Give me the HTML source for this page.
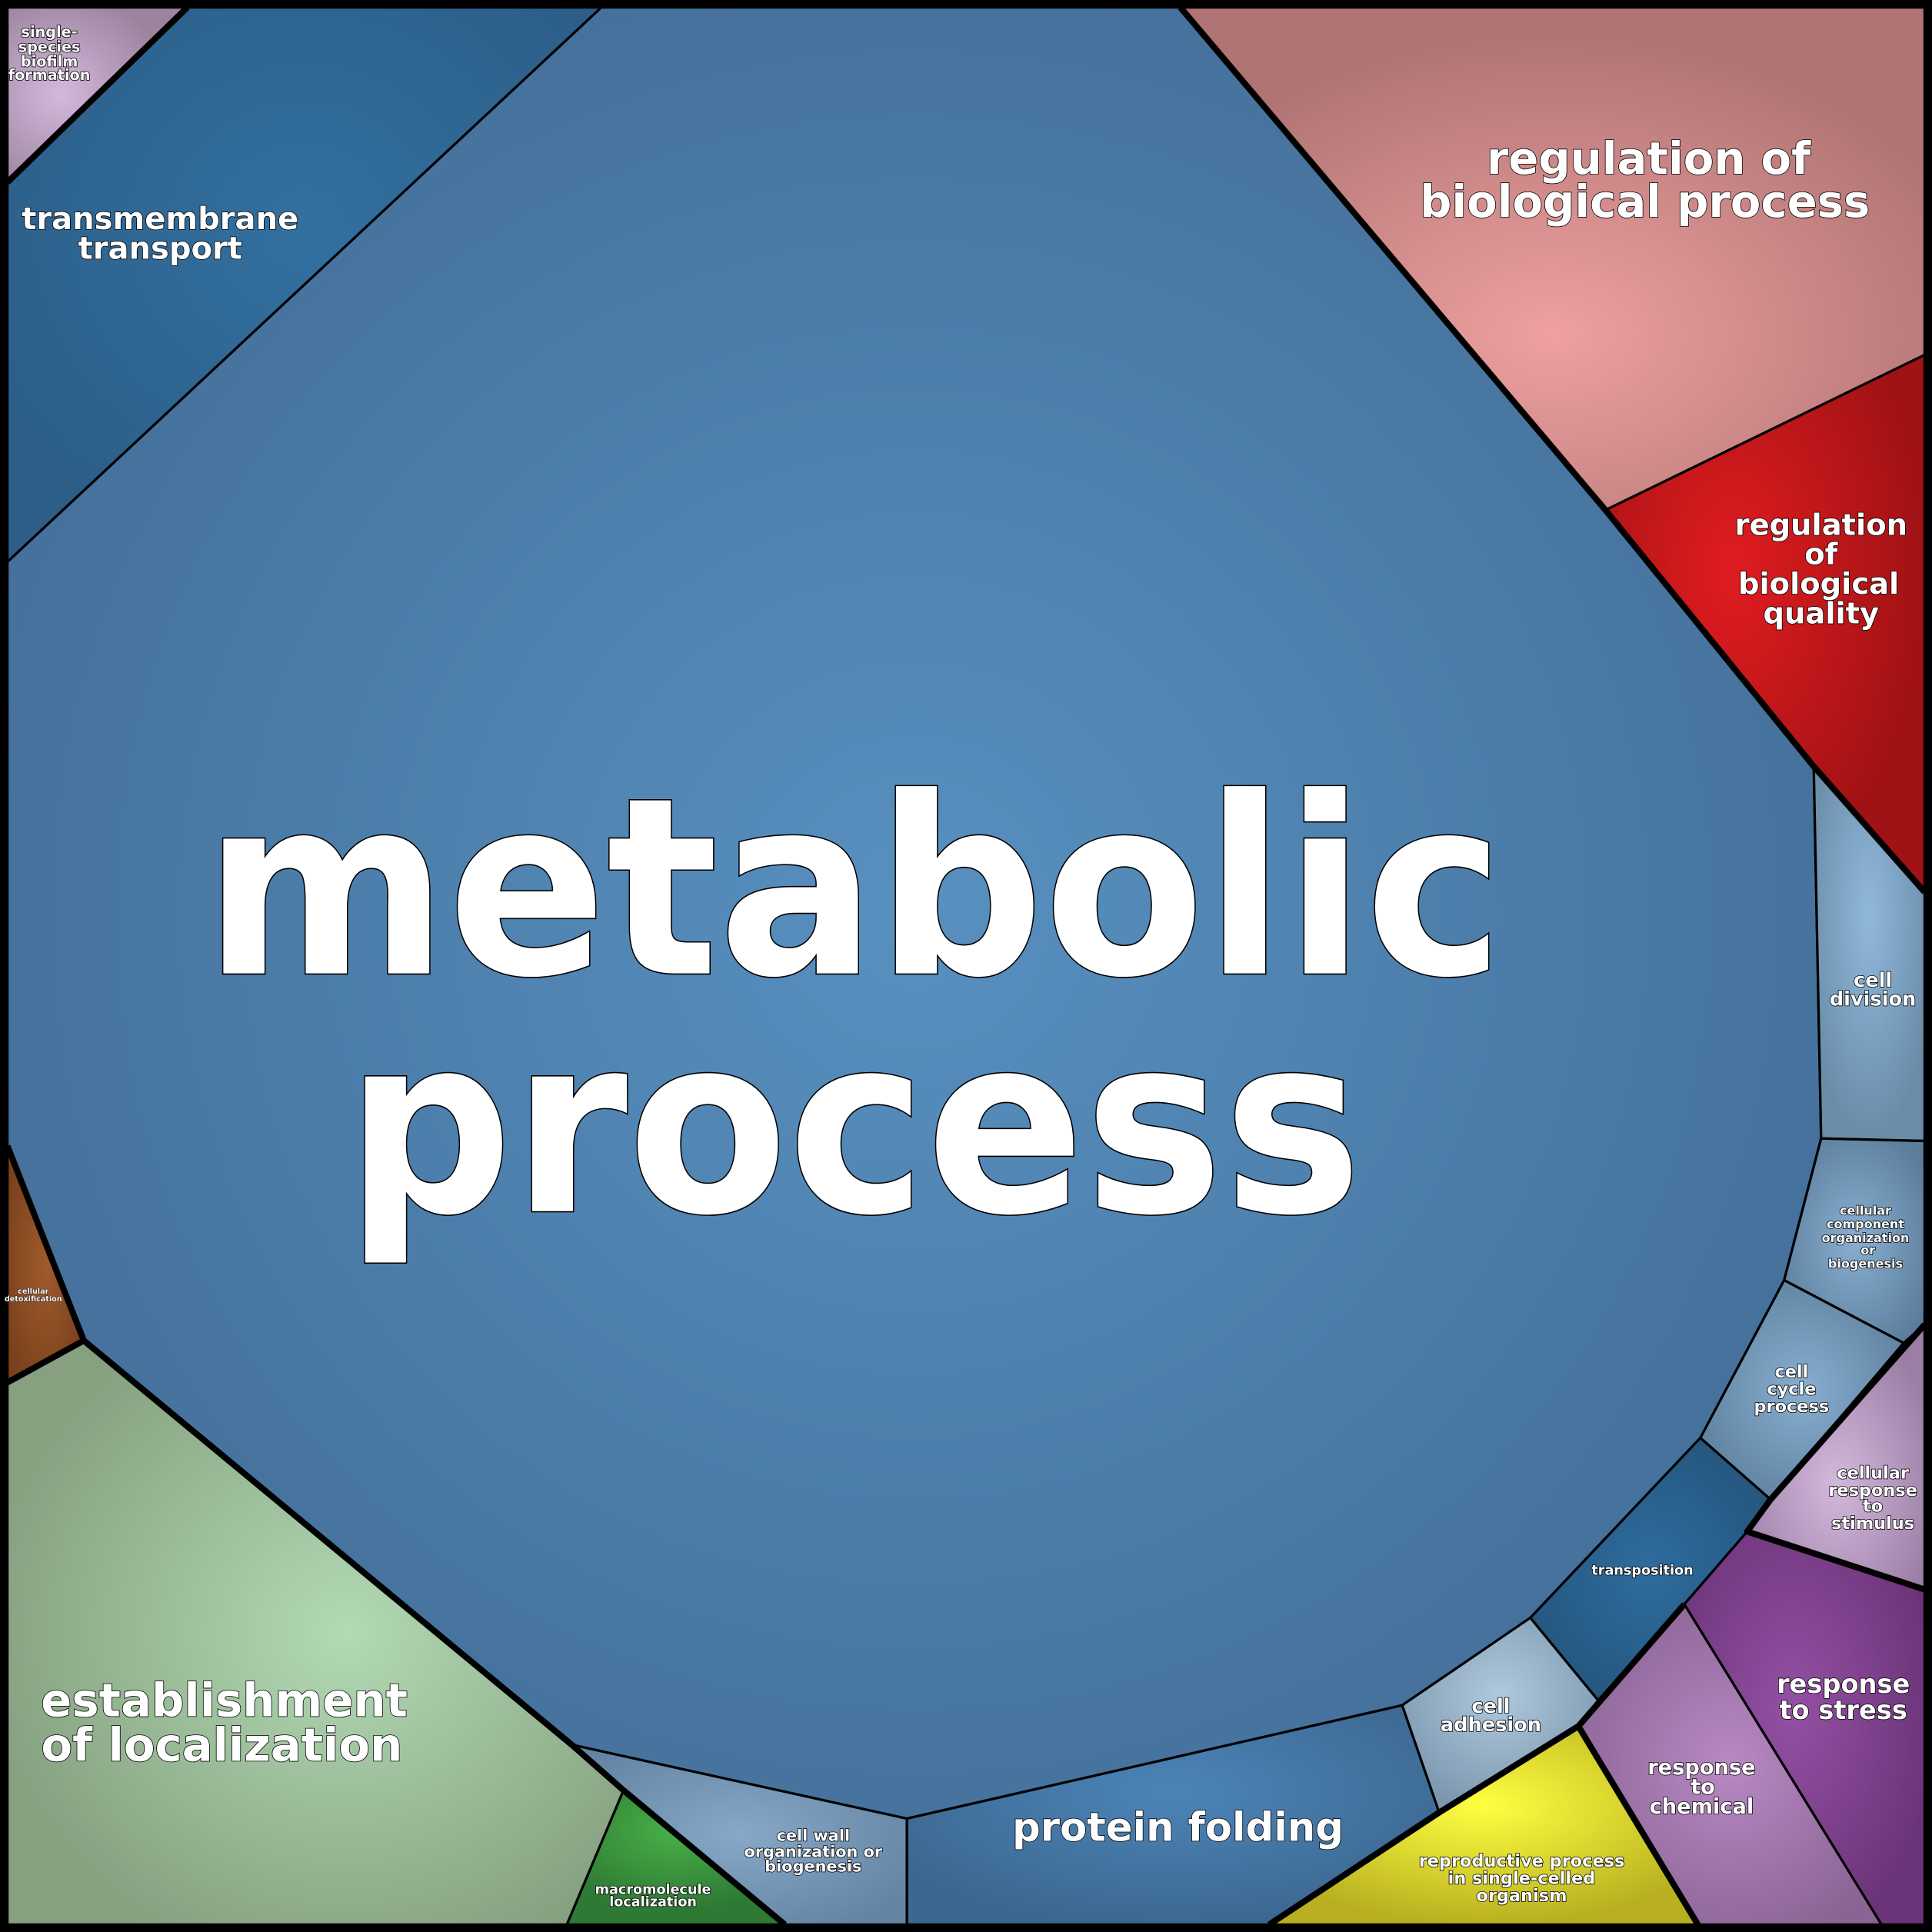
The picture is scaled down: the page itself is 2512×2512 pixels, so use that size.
<!DOCTYPE html>
<html><head><meta charset="utf-8"><style>html,body{margin:0;padding:0;background:#000}svg{display:block}
text{font-family:"DejaVu Sans","Liberation Sans",sans-serif;font-weight:bold;fill:#fff;stroke:#000;paint-order:stroke;text-anchor:middle}</style></head>
<body>
<svg width="2512" height="2512" viewBox="0 0 1568 1568" xmlns="http://www.w3.org/2000/svg">
<defs>
<radialGradient id="gMet" cx="0.5" cy="0.5" r="0.55"><stop offset="0" stop-color="#5890c0"/><stop offset="1" stop-color="#44709a"/></radialGradient>
<radialGradient id="gTm" cx="0.5" cy="0.4" r="0.6"><stop offset="0" stop-color="#3270a0"/><stop offset="1" stop-color="#2c5e88"/></radialGradient>
<radialGradient id="gSs" cx="0.3" cy="0.5" r="0.6"><stop offset="0" stop-color="#d4b8dc"/><stop offset="1" stop-color="#9c849f"/></radialGradient>
<radialGradient id="gRbp" cx="0.5" cy="0.65" r="0.6"><stop offset="0" stop-color="#f0a0a0"/><stop offset="1" stop-color="#b07474"/></radialGradient>
<radialGradient id="gRbq" cx="0.4" cy="0.4" r="0.6"><stop offset="0" stop-color="#e01c20"/><stop offset="1" stop-color="#a01214"/></radialGradient>
<radialGradient id="gCd" cx="0.5" cy="0.4" r="0.6"><stop offset="0" stop-color="#90b8dc"/><stop offset="1" stop-color="#6a8ca8"/></radialGradient>
<radialGradient id="gLb" cx="0.5" cy="0.5" r="0.6"><stop offset="0" stop-color="#88aed0"/><stop offset="1" stop-color="#5c7e9c"/></radialGradient>
<radialGradient id="gCrs" cx="0.5" cy="0.6" r="0.6"><stop offset="0" stop-color="#d4b8dc"/><stop offset="1" stop-color="#9a7ea4"/></radialGradient>
<radialGradient id="gTr" cx="0.5" cy="0.5" r="0.6"><stop offset="0" stop-color="#2e6c9e"/><stop offset="1" stop-color="#24547c"/></radialGradient>
<radialGradient id="gRs" cx="0.45" cy="0.45" r="0.6"><stop offset="0" stop-color="#9450a4"/><stop offset="1" stop-color="#6c3478"/></radialGradient>
<radialGradient id="gRc" cx="0.5" cy="0.5" r="0.6"><stop offset="0" stop-color="#b888c4"/><stop offset="1" stop-color="#8a6494"/></radialGradient>
<radialGradient id="gCa" cx="0.5" cy="0.4" r="0.6"><stop offset="0" stop-color="#b0c8dc"/><stop offset="1" stop-color="#7c98b0"/></radialGradient>
<radialGradient id="gRep" cx="0.5" cy="0.4" r="0.6"><stop offset="0" stop-color="#ffff40"/><stop offset="1" stop-color="#b8b020"/></radialGradient>
<radialGradient id="gPf" cx="0.5" cy="0.4" r="0.6"><stop offset="0" stop-color="#4c84b8"/><stop offset="1" stop-color="#3c6890"/></radialGradient>
<radialGradient id="gCw" cx="0.5" cy="0.5" r="0.6"><stop offset="0" stop-color="#88a8c8"/><stop offset="1" stop-color="#6484a4"/></radialGradient>
<radialGradient id="gMl" cx="0.5" cy="0.3" r="0.6"><stop offset="0" stop-color="#48b048"/><stop offset="1" stop-color="#2e7a34"/></radialGradient>
<radialGradient id="gEl" cx="0.55" cy="0.5" r="0.6"><stop offset="0" stop-color="#b2dab4"/><stop offset="1" stop-color="#86a080"/></radialGradient>
<radialGradient id="gDet" cx="0.5" cy="0.5" r="0.6"><stop offset="0" stop-color="#a05a2c"/><stop offset="1" stop-color="#78401c"/></radialGradient>
</defs>
<rect width="1568" height="1568" fill="#000"/>
<g stroke="#000" stroke-width="2" stroke-linejoin="round">
<polygon fill="url(#gMet)" points="488,6 958,6 1303,414 1472,622 1478,924 1448,1039 1380,1167 1242,1313 1138,1384 736,1476 464,1416 68,1088 6,930 6,456"/>
<polygon fill="url(#gTm)" points="152,6 488,6 6,456 6,148"/>
<polygon fill="url(#gSs)" points="6,6 152,6 6,148"/>
<polygon fill="url(#gRbp)" points="958,6 1562,6 1562,288 1303,414"/>
<polygon fill="url(#gRbq)" points="1303,414 1562,288 1562,724 1472,622"/>
<polygon fill="url(#gCd)" points="1472,622 1562,724 1562,926 1478,924"/>
<polygon fill="url(#gLb)" points="1478,924 1562,926 1562,1075 1545,1090 1448,1039"/>
<polygon fill="url(#gLb)" points="1448,1039 1545,1090 1437,1217 1380,1167"/>
<polygon fill="url(#gCrs)" points="1545,1090 1562,1075 1562,1290 1418,1243 1437,1217"/>
<polygon fill="url(#gTr)" points="1380,1167 1437,1217 1418,1243 1367,1302 1297,1380 1242,1313"/>
<polygon fill="url(#gRs)" points="1418,1243 1562,1290 1562,1562 1527,1562 1367,1302"/>
<polygon fill="url(#gRc)" points="1367,1302 1527,1562 1378,1562 1281,1401 1297,1380"/>
<polygon fill="url(#gCa)" points="1138,1384 1242,1313 1297,1380 1281,1401 1168,1471"/>
<polygon fill="url(#gRep)" points="1168,1471 1281,1401 1378,1562 1030,1562"/>
<polygon fill="url(#gPf)" points="736,1476 1138,1384 1168,1471 1030,1562 736,1562"/>
<polygon fill="url(#gCw)" points="464,1416 736,1476 736,1562 637,1562 506,1453"/>
<polygon fill="url(#gMl)" points="506,1453 637,1562 460,1562"/>
<polygon fill="url(#gEl)" points="6,1122 68,1088 464,1416 506,1453 460,1562 6,1562"/>
<polygon fill="url(#gDet)" points="6,930 68,1088 6,1122"/>
</g>
<g fill="none" stroke="#000" stroke-width="5" stroke-linejoin="round">
<polyline points="6,148 152,6"/>
<polyline points="958,6 1303,414 1472,622 1562,724"/>
<polyline points="1562,1075 1437,1217 1418,1243 1562,1290"/>
<polyline points="1367,1302 1281,1401 1168,1471 1030,1562"/>
<polyline points="1281,1401 1378,1562"/>
<polyline points="6,930 68,1088 464,1416 506,1453 637,1562"/>
<polyline points="6,1122 68,1088"/>
<rect x="3" y="3" width="1562" height="1562" stroke-width="7"/>
</g>
<text x="693" y="790" font-size="200" stroke-width="2" textLength="1055" lengthAdjust="spacingAndGlyphs">metabolic</text>
<text x="693" y="983" font-size="200" stroke-width="2" textLength="825" lengthAdjust="spacingAndGlyphs">process</text>
<g stroke-width="1">
<text x="1338" y="141" font-size="36">regulation of</text>
<text x="1335" y="176" font-size="36">biological process</text>
<text x="130" y="186" font-size="25">transmembrane</text>
<text x="130" y="210" font-size="25">transport</text>
<text x="182" y="1393" font-size="37">establishment</text>
<text x="180" y="1429" font-size="37">of localization</text>
<text x="956" y="1494" font-size="32">protein folding</text>
<text x="1478" y="434" font-size="24">regulation</text>
<text x="1478" y="458" font-size="24">of</text>
<text x="1476" y="482" font-size="24">biological</text>
<text x="1478" y="506" font-size="24">quality</text>
<text x="1496" y="1374" font-size="21">response</text>
<text x="1496" y="1395" font-size="21">to stress</text>
<text x="1381" y="1440" font-size="17">response</text>
<text x="1382" y="1456" font-size="17">to</text>
<text x="1381" y="1472" font-size="17">chemical</text>
<text x="1520" y="801" font-size="16">cell</text>
<text x="1520" y="816" font-size="16">division</text>
<text x="1210" y="1390" font-size="16">cell</text>
<text x="1210" y="1405" font-size="16">adhesion</text>
<text x="1454" y="1118" font-size="14">cell</text>
<text x="1454" y="1132" font-size="14">cycle</text>
<text x="1454" y="1146" font-size="14">process</text>
<text x="1520" y="1200" font-size="14">cellular</text>
<text x="1520" y="1214" font-size="14">response</text>
<text x="1520" y="1227" font-size="14">to</text>
<text x="1520" y="1241" font-size="14">stimulus</text>
<text x="1235" y="1515" font-size="14">reproductive process</text>
<text x="1235" y="1529" font-size="14">in single-celled</text>
<text x="1235" y="1543" font-size="14">organism</text>
<text x="660" y="1494" font-size="13">cell wall</text>
<text x="660" y="1507" font-size="13">organization or</text>
<text x="660" y="1519" font-size="13">biogenesis</text>
<text x="40" y="30" font-size="12">single-</text>
<text x="40" y="42" font-size="12">species</text>
<text x="40" y="54" font-size="12">biofilm</text>
<text x="40" y="65" font-size="12">formation</text>
<text x="530" y="1537" font-size="11">macromolecule</text>
<text x="530" y="1547" font-size="11">localization</text>
<text x="1333" y="1278" font-size="11">transposition</text>
<text x="1514" y="986" font-size="10">cellular</text>
<text x="1514" y="997" font-size="10">component</text>
<text x="1514" y="1008" font-size="10">organization</text>
<text x="1516" y="1018" font-size="10">or</text>
<text x="1514" y="1029" font-size="10">biogenesis</text>
<text x="27" y="1050" font-size="6" stroke-width="0.5">cellular</text>
<text x="27" y="1056" font-size="6" stroke-width="0.5">detoxification</text>
</g>
</svg>
</body></html>
